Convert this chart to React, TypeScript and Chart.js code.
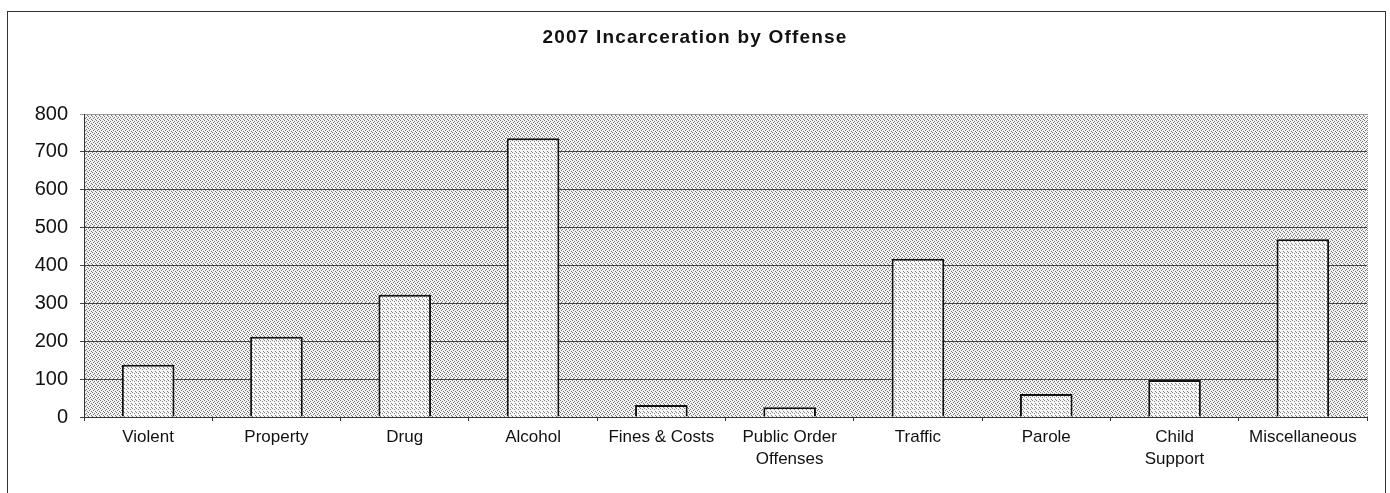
import React, { useEffect, useRef } from "react";
import { Chart, registerables } from "chart.js";

Chart.register(...registerables);

const TITLE = "2007 Incarceration by Offense";
const categories: (string | string[])[] = [
  "Violent",
  "Property",
  "Drug",
  "Alcohol",
  "Fines & Costs",
  ["Public Order", "Offenses"],
  "Traffic",
  "Parole",
  ["Child", "Support"],
  "Miscellaneous",
];
const values: number[] = [138, 212, 323, 736, 32, 26, 418, 61, 98, 469];
const yTicks: number[] = [0, 100, 200, 300, 400, 500, 600, 700, 800];

const FONT = "Liberation Sans, Arial, sans-serif";

function makePattern(base: string, dot: string, dots: [number, number][]) {
  const c = document.createElement("canvas");
  c.width = 4;
  c.height = 4;
  const g = c.getContext("2d")!;
  g.fillStyle = base;
  g.fillRect(0, 0, 4, 4);
  g.fillStyle = dot;
  dots.forEach(([x, y]) => g.fillRect(x, y, 1, 1));
  const ctx = document.createElement("canvas").getContext("2d")!;
  return ctx.createPattern(c, "repeat")!;
}

export default function App() {
  const ref = useRef<HTMLCanvasElement>(null);
  useEffect(() => {
    const bgPattern = makePattern("#f2f2f2", "#777777", [
      [0, 0],
      [2, 1],
      [1, 2],
      [3, 3],
    ]);
    const barPattern = makePattern("#f6f6f6", "#858585", [
      [0, 0],
      [2, 1],
      [3, 3],
    ]);
    const plotBg = {
      id: "plotBg",
      beforeDraw(chart: any) {
        const { ctx, chartArea: a } = chart;
        ctx.save();
        ctx.fillStyle = bgPattern;
        ctx.fillRect(a.left, a.top, a.right - a.left, a.bottom - a.top);
        ctx.strokeStyle = "#8a8a8a";
        ctx.setLineDash([1, 1]);
        ctx.lineWidth = 1;
        ctx.beginPath();
        ctx.moveTo(a.right + 0.5, a.top);
        ctx.lineTo(a.right + 0.5, a.bottom);
        ctx.stroke();
        ctx.restore();
      },
    };
    const titlePlugin = {
      id: "customTitle",
      afterDraw(chart: any) {
        const ctx = chart.ctx;
        ctx.save();
        ctx.font = `bold 19px ${FONT}`;
        (ctx as any).letterSpacing = "1.2px";
        ctx.fillStyle = "#111";
        ctx.textAlign = "center";
        ctx.textBaseline = "middle";
        ctx.fillText(TITLE, 695, 38);
        (ctx as any).letterSpacing = "0px";
        ctx.restore();
      },
    };
    const chart = new Chart(ref.current!, {
      type: "bar",
      data: {
        labels: categories,
        datasets: [
          {
            data: values,
            backgroundColor: barPattern as any,
            borderColor: "#111",
            borderWidth: 2,
            borderSkipped: "bottom",
            categoryPercentage: 1,
            barPercentage: 0.41,
          },
        ],
      },
      plugins: [plotBg, titlePlugin],
      options: {
        animation: false,
        responsive: false,
        maintainAspectRatio: false,
        layout: { padding: { left: 0, right: 23, top: 114, bottom: 0 } },
        plugins: {
          legend: { display: false },
          tooltip: { enabled: false },
          title: { display: false },
        },
        scales: {
          x: {
            offset: true,
            grid: {
              offset: true,
              drawOnChartArea: false,
              drawTicks: true,
              tickLength: 4,
              color: "#333",
            },
            border: { display: true, color: "#333", width: 1 },
            ticks: {
              color: "#111",
              padding: 6,
              maxRotation: 0,
              autoSkip: false,
              font: { family: FONT, size: 17, lineHeight: 1.25 },
            },
            afterFit(scale: any) {
              scale.height = 76;
            },
          },
          y: {
            min: 0,
            max: 800,
            afterBuildTicks(scale: any) {
              scale.ticks = yTicks.map((v) => ({ value: v }));
            },
            grid: {
              color: (c: any) => (c.tick && c.tick.value === 800 ? "#9a9a9a" : "#444"),
              lineWidth: 1,
              tickLength: 4,
              drawTicks: true,
            },
            border: { display: true, color: "#333", width: 1 },
            ticks: {
              color: "#111",
              padding: 12,
              font: { family: FONT, size: 20 },
            },
            afterFit(scale: any) {
              scale.width = 84;
            },
          },
        },
      },
    });
    return () => chart.destroy();
  }, []);
  return (
    <div style={{ position: "fixed", left: 0, top: 0, width: 1390, height: 493, background: "#fff" }}>
      <div
        style={{
          position: "absolute",
          left: 7,
          top: 11,
          width: 1379,
          height: 500,
          border: "1px solid #333",
          boxSizing: "border-box",
        }}
      />
      <canvas
        ref={ref}
        width={1390}
        height={493}
        style={{ position: "absolute", left: 0, top: 0, width: 1390, height: 493 }}
      />
    </div>
  );
}
